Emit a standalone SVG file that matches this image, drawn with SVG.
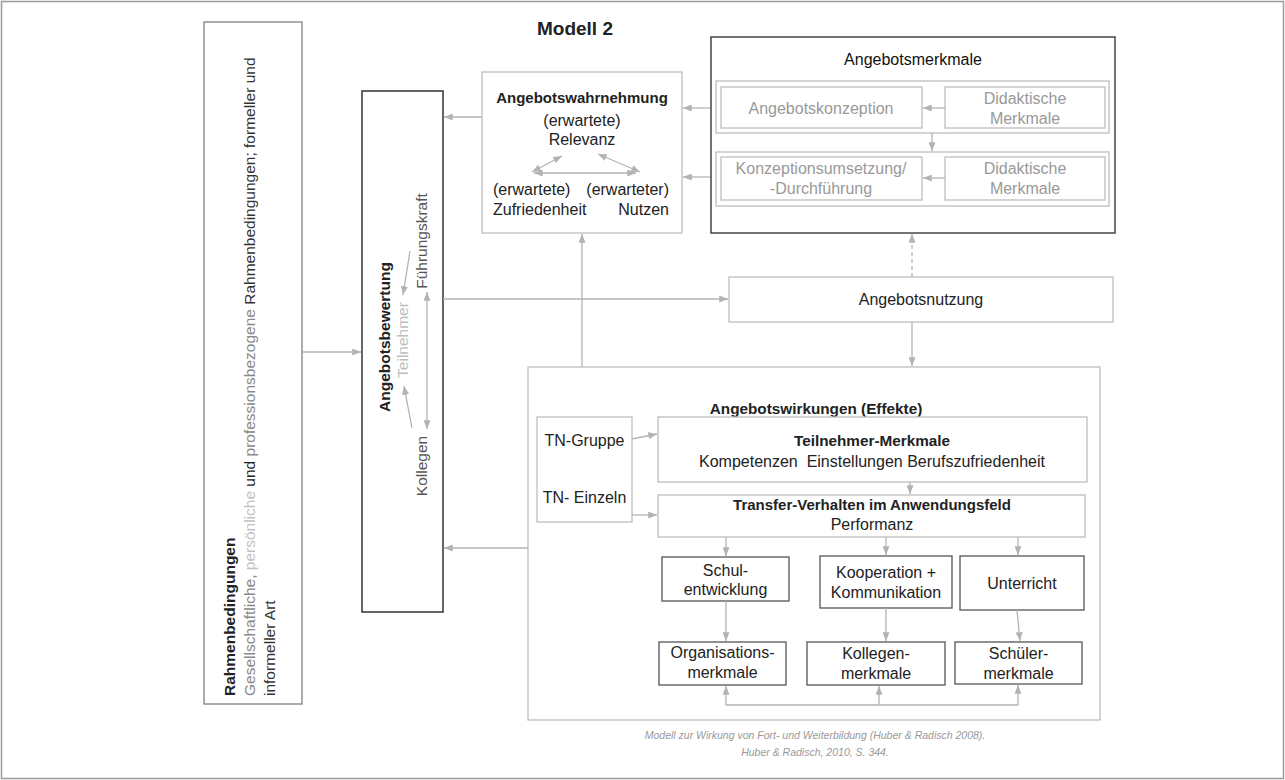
<svg xmlns="http://www.w3.org/2000/svg" width="1285" height="780" viewBox="0 0 1285 780">
<defs>
<marker id="ah" viewBox="0 0 10 8" refX="10" refY="4" markerWidth="9" markerHeight="7" markerUnits="userSpaceOnUse" orient="auto-start-reverse"><path d="M0,0 L10,4 L0,8 z" fill="#b3b3b3"/></marker>
<style>
text{font-family:"Liberation Sans",Arial,sans-serif;font-size:16px;fill:#222}
.b{font-weight:bold}
.m{text-anchor:middle}
.e{text-anchor:end}
.g{fill:#999}
.lg{fill:#bdbdbd}
.dg{fill:#555}
.pre{white-space:pre}
.bx{fill:#fff;stroke:#bdbdbd;stroke-width:1.3}
.dk{fill:#fff;stroke:#555;stroke-width:1.3}
.bk{fill:#fff;stroke:#333;stroke-width:1.5}
.c line,.c path{stroke:#b3b3b3;stroke-width:1.3;fill:none}
.a{marker-end:url(#ah)}
.d{marker-start:url(#ah);marker-end:url(#ah)}
.cap{font-style:italic;font-size:10.5px;fill:#999;text-anchor:middle}
</style>
</defs>
<rect x="0" y="0" width="1285" height="780" fill="#fff"/>
<rect x="1.5" y="1.5" width="1282" height="777" fill="none" stroke="#9a9a9a" stroke-width="1.5"/>
<text x="575" y="35" class="b m" style="font-size:19px">Modell 2</text>

<g id="rahmen">
<rect x="204" y="22" width="98" height="682" fill="#fff" stroke="#808080" stroke-width="1.3"/>
<text transform="translate(235,696) rotate(-90)" class="b" style="font-size:15.5px">Rahmenbedingungen</text>
<text transform="translate(255,696) rotate(-90)" style="font-size:15.5px"><tspan fill="#888">Gesellschaftliche, </tspan><tspan fill="#c2c2c2">persönliche </tspan><tspan fill="#222">und </tspan><tspan fill="#888">professionsbezogene </tspan><tspan fill="#333">Rahmenbedingungen; formeller und</tspan></text>
<text transform="translate(275,696) rotate(-90)" style="font-size:15.5px;fill:#333">informeller Art</text>
</g>

<g id="bewertung">
<rect x="362" y="91" width="81" height="521" class="bk"/>
<text transform="translate(390,337) rotate(-90)" class="b m" style="font-size:15.5px">Angebotsbewertung</text>
<text transform="translate(408,340) rotate(-90)" class="m lg" style="font-size:15.5px">Teilnehmer</text>
<text transform="translate(427,241) rotate(-90)" class="m dg" style="font-size:15.5px">Führungskraft</text>
<text transform="translate(427,466) rotate(-90)" class="m dg" style="font-size:15.5px">Kollegen</text>
</g>

<g id="wahrnehmung">
<rect x="482" y="72" width="200" height="161" class="bx"/>
<text x="582" y="103" class="b m" style="font-size:15px">Angebotswahrnehmung</text>
<text x="582" y="126" class="m">(erwartete)</text>
<text x="582" y="145" class="m">Relevanz</text>
<text x="493" y="195">(erwartete)</text>
<text x="669" y="195" class="e">(erwarteter)</text>
<text x="493" y="215">Zufriedenheit</text>
<text x="669" y="215" class="e">Nutzen</text>
</g>

<g id="merkmale">
<rect x="711" y="37" width="404" height="196" class="bk" style="stroke:#444"/>
<text x="913" y="65" class="m" style="fill:#111">Angebotsmerkmale</text>
<rect x="716" y="81" width="393" height="52" class="bx"/>
<rect x="721" y="87" width="201" height="41" class="bx"/>
<rect x="945" y="87" width="160" height="41" class="bx"/>
<text x="821" y="114" class="m g">Angebotskonzeption</text>
<text x="1025" y="104" class="m g">Didaktische</text>
<text x="1025" y="124" class="m g">Merkmale</text>
<rect x="716" y="152" width="393" height="54" class="bx"/>
<rect x="721" y="157" width="201" height="43" class="bx"/>
<rect x="945" y="157" width="160" height="43" class="bx"/>
<text x="821" y="174" class="m g">Konzeptionsumsetzung/</text>
<text x="821" y="194" class="m g">-Durchführung</text>
<text x="1025" y="174" class="m g">Didaktische</text>
<text x="1025" y="194" class="m g">Merkmale</text>
</g>

<g id="nutzung">
<rect x="729" y="277" width="384" height="45" class="bx"/>
<text x="921" y="305" class="m">Angebotsnutzung</text>
</g>

<g id="wirkungen">
<rect x="528" y="367" width="572" height="353" class="bx"/>
<text x="816" y="414" class="b m" style="font-size:15.3px">Angebotswirkungen (Effekte)</text>
</g>

<g id="tn">
<rect x="537" y="417" width="95" height="105" class="bx"/>
<text x="584.5" y="446" class="m">TN-Gruppe</text>
<text x="584.5" y="503" class="m">TN- Einzeln</text>
</g>

<g id="teilnehmer">
<rect x="658" y="417" width="429" height="65" class="bx"/>
<text x="872" y="446" class="b m" style="font-size:15.3px">Teilnehmer-Merkmale</text>
<text x="872" y="467" class="m pre">Kompetenzen  Einstellungen Berufszufriedenheit</text>
</g>

<g id="transfer">
<rect x="658" y="495" width="427" height="42" class="bx"/>
<text x="872" y="510" class="b m" style="font-size:15px">Transfer-Verhalten im Anwendungsfeld</text>
<text x="872" y="530" class="m">Performanz</text>
</g>

<g id="schul">
<rect x="662" y="557" width="127" height="44" class="dk"/>
<text x="725.5" y="576" class="m">Schul-</text>
<text x="725.5" y="595" class="m">entwicklung</text>
</g>
<g id="kooperation">
<rect x="820" y="556" width="132" height="52" class="dk"/>
<text x="886" y="578" class="m">Kooperation +</text>
<text x="886" y="598" class="m">Kommunikation</text>
</g>
<g id="unterricht">
<rect x="960" y="556" width="124" height="54" class="dk"/>
<text x="1022" y="589" class="m">Unterricht</text>
</g>
<g id="organisation">
<rect x="659" y="642" width="127" height="43" class="dk"/>
<text x="722.5" y="658" class="m">Organisations-</text>
<text x="722.5" y="678" class="m">merkmale</text>
</g>
<g id="kollegen">
<rect x="807" y="642" width="138" height="43" class="dk"/>
<text x="876" y="659" class="m">Kollegen-</text>
<text x="876" y="679" class="m">merkmale</text>
</g>
<g id="schueler">
<rect x="955" y="642" width="127" height="42" class="dk"/>
<text x="1018.5" y="659" class="m">Schüler-</text>
<text x="1018.5" y="679" class="m">merkmale</text>
</g>

<g id="connectors" class="c">
<line x1="302" y1="352" x2="361" y2="352" class="a"/>
<line x1="482" y1="117" x2="444" y2="117" class="a"/>
<line x1="710" y1="108" x2="683" y2="108" class="a"/>
<line x1="710" y1="177" x2="683" y2="177" class="a"/>
<line x1="443" y1="299" x2="728" y2="299" class="a"/>
<line x1="582" y1="367" x2="582" y2="234" class="a"/>
<line x1="912" y1="277" x2="912" y2="234" class="a" stroke-dasharray="4,3"/>
<line x1="912" y1="322" x2="912" y2="366" class="a"/>
<line x1="528" y1="548" x2="444" y2="548" class="a"/>
<line x1="632" y1="439" x2="657" y2="434" class="a"/>
<line x1="632" y1="515" x2="657" y2="515" class="a"/>
<line x1="910" y1="482" x2="910" y2="494" class="a"/>
<line x1="726" y1="537" x2="726" y2="556" class="a"/>
<line x1="886" y1="537" x2="886" y2="555" class="a"/>
<line x1="1018" y1="537" x2="1018" y2="555" class="a"/>
<line x1="726" y1="601" x2="726" y2="641" class="a"/>
<line x1="886" y1="608" x2="886" y2="641" class="a"/>
<line x1="1017" y1="610" x2="1020" y2="641" class="a"/>
<line x1="726" y1="705" x2="1018" y2="705"/>
<line x1="726" y1="705" x2="726" y2="686" class="a"/>
<line x1="879" y1="705" x2="879" y2="686" class="a"/>
<line x1="1018" y1="705" x2="1018" y2="685" class="a"/>
<line x1="945" y1="108" x2="923" y2="108" class="a"/>
<line x1="932" y1="133" x2="932" y2="151" class="a"/>
<line x1="945" y1="178" x2="923" y2="178" class="a"/>
<line x1="562" y1="156" x2="532" y2="172" class="d"/>
<line x1="598" y1="154" x2="640" y2="172" class="d"/>
<line x1="534" y1="173" x2="636" y2="173" class="d"/>
<line x1="410" y1="251" x2="403" y2="295" class="a"/>
<line x1="412" y1="428" x2="404" y2="386" class="a"/>
<line x1="427" y1="292" x2="427" y2="429" class="d"/>
</g>

<text x="815" y="739" class="cap">Modell zur Wirkung von Fort- und Weiterbildung (Huber &amp; Radisch 2008).</text>
<text x="815" y="756" class="cap">Huber &amp; Radisch, 2010, S. 344.</text>
</svg>
